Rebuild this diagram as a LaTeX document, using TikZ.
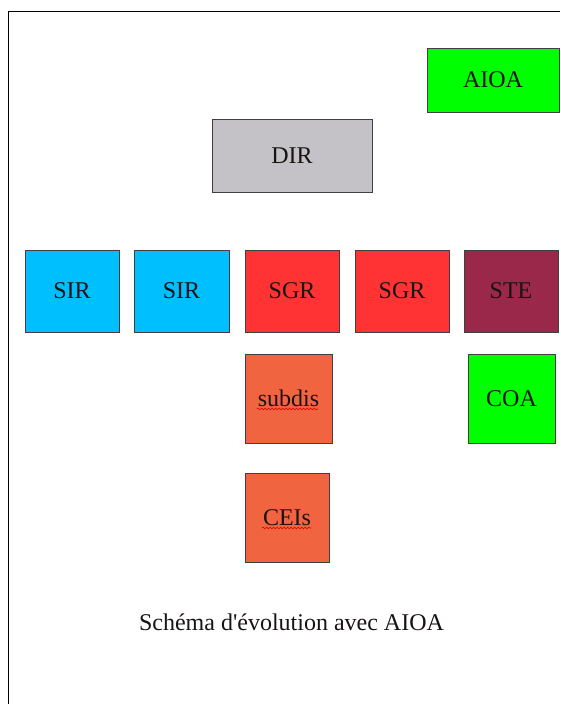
\documentclass[tikz,border=0pt]{standalone}
\usepackage{fontspec}
\setmainfont{Liberation Serif}[Ligatures=TeXOff]
\usetikzlibrary{decorations.pathmorphing}
\definecolor{cgreen}{RGB}{0,255,0}
\definecolor{cgray}{RGB}{196,194,198}
\definecolor{ccyan}{RGB}{0,191,255}
\definecolor{cred}{RGB}{255,51,51}
\definecolor{cwine}{RGB}{153,40,74}
\definecolor{corange}{RGB}{241,100,64}
\definecolor{cborder}{RGB}{64,64,64}
\definecolor{ctext}{RGB}{25,20,20}
\tikzset{
  box/.style={draw=cborder, line width=0.8pt, rectangle, inner sep=0pt,
    text=ctext, font=\fontsize{24}{28}\selectfont},
  squiggle/.style={draw=red!85!black, line width=0.6pt, decorate,
    decoration={snake, amplitude=0.9pt, segment length=3.5pt}},
  frame/.style={draw=black, line width=1pt}
}
\begin{document}
\begin{tikzpicture}[x=1pt,y=-1pt]
\useasboundingbox (0,0) rectangle (560,704);
\fill[white] (0,0) rectangle (560,704);
\draw[frame] (8,704) -- (8,11.5) -- (560,11.5);

\node[box, fill=cgreen, minimum width=132pt, minimum height=64pt] (aioa) at (493,80) {AIOA};
\node[box, fill=cgray, minimum width=160pt, minimum height=73pt] (dir) at (292,155.5) {DIR};

\node[box, fill=ccyan, minimum width=94pt, minimum height=82pt] (sir1) at (72,291) {SIR};
\node[box, fill=ccyan, minimum width=95pt, minimum height=82pt] (sir2) at (181.5,291) {SIR};
\node[box, fill=cred, minimum width=94pt, minimum height=82pt] (sgr1) at (292,291) {SGR};
\node[box, fill=cred, minimum width=94pt, minimum height=82pt] (sgr2) at (402,291) {SGR};
\node[box, fill=cwine, minimum width=94pt, minimum height=82pt] (ste) at (511,291) {STE};

\node[box, fill=corange, minimum width=87pt, minimum height=89pt] (subdis) at (288.5,398.5) {subdis};
\node[box, fill=cgreen, minimum width=87pt, minimum height=89pt] (coa) at (511.5,398.5) {COA};
\node[box, fill=corange, minimum width=84pt, minimum height=89pt] (ceis) at (287,517.5) {CEIs};

\coordinate (sqa1) at (257,409);
\coordinate (sqa2) at (318,409);
\coordinate (sqb1) at (262,528);
\coordinate (sqb2) at (311,528);
\draw[squiggle] (sqa1) -- (sqa2);
\draw[squiggle] (sqb1) -- (sqb2);

\node[anchor=base, inner sep=0pt, text=ctext, font=\fontsize{24}{28}\selectfont] (caption) at (291.5,630) {Schéma d'évolution avec AIOA};
\end{tikzpicture}
\end{document}
